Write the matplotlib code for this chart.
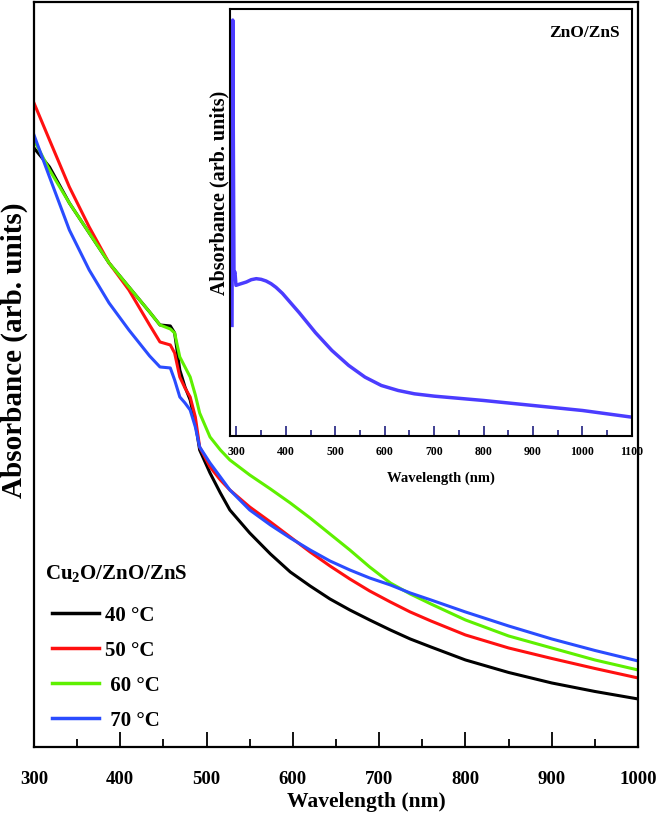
import numpy as np
import matplotlib
matplotlib.use("Agg")
import matplotlib.pyplot as plt
from matplotlib.ticker import MultipleLocator

plt.rcParams['font.family'] = 'Liberation Serif'
plt.rcParams['font.weight'] = 'bold'
plt.rcParams['axes.labelweight'] = 'bold'
plt.rcParams['mathtext.default'] = 'regular'

#######################################
# MAIN PANEL DATA (Cu2O/ZnO/ZnS)
#######################################
wl = [300, 318, 341, 364, 387, 410, 434, 446, 458, 463, 469, 475, 481, 487, 492, 504, 516,
      527, 550, 574, 597, 620, 643, 666, 689, 713, 736, 760, 800, 850, 900, 950, 1000]

abs_40 = [5.99, 5.80, 5.44, 5.14, 4.84, 4.60, 4.35, 4.22, 4.21, 4.14, 3.77, 3.60, 3.47, 3.24,
          2.97, 2.74, 2.54, 2.37, 2.14, 1.93, 1.75, 1.61, 1.48, 1.37, 1.27, 1.17, 1.08, 1.00,
          0.87, 0.745, 0.64, 0.555, 0.48]
abs_50 = [6.44, 6.07, 5.60, 5.20, 4.84, 4.57, 4.22, 4.05, 4.02, 3.94, 3.70, 3.59, 3.50, 3.30,
          3.00, 2.80, 2.67, 2.57, 2.40, 2.25, 2.10, 1.95, 1.81, 1.68, 1.56, 1.45, 1.35, 1.26,
          1.12, 0.99, 0.885, 0.785, 0.69]
abs_60 = [6.07, 5.77, 5.44, 5.14, 4.84, 4.60, 4.35, 4.22, 4.18, 4.14, 3.90, 3.80, 3.70, 3.52,
          3.34, 3.10, 2.97, 2.87, 2.72, 2.58, 2.44, 2.29, 2.13, 1.97, 1.80, 1.64, 1.53, 1.43,
          1.27, 1.11, 0.99, 0.87, 0.77]
abs_70 = [6.12, 5.70, 5.17, 4.77, 4.44, 4.17, 3.91, 3.80, 3.79, 3.67, 3.50, 3.44, 3.37, 3.20,
          3.00, 2.84, 2.70, 2.57, 2.37, 2.22, 2.09, 1.97, 1.86, 1.77, 1.69, 1.62, 1.54, 1.47,
          1.35, 1.21, 1.08, 0.965, 0.86]

labels = ['40 °C', '50 °C', ' 60 °C', ' 70 °C']
colors = ['black', '#ff1010', '#5ef000', '#2a4cff']

#######################################
# INSET DATA (ZnO/ZnS)
#######################################
wl_in = [291, 292.5, 295, 297, 299, 305, 320, 330, 340, 350, 360, 370, 380, 393, 427,
         460, 493, 527, 560, 593, 627, 660, 700, 800, 900, 1000, 1100]
abs_in = [0.332, 1.247, 0.487, 0.492, 0.452, 0.455, 0.462, 0.469, 0.472, 0.470, 0.465,
          0.457, 0.446, 0.428, 0.370, 0.310, 0.257, 0.212, 0.177, 0.152, 0.137, 0.127,
          0.120, 0.107, 0.092, 0.077, 0.057]

fig = plt.figure(figsize=(6.61, 8.23), dpi=100)
ax = fig.add_axes([0.0514, 0.0924, 0.9138, 0.9052])

for y, c, lab in zip([abs_40, abs_50, abs_60, abs_70], colors, labels):
    ax.plot(wl, y, color=c, lw=2.2, label=lab)

ax.set_xlim(300, 1000)
ax.set_ylim(0, 7.45)
ax.xaxis.set_major_locator(MultipleLocator(100))
ax.xaxis.set_minor_locator(MultipleLocator(50))
ax.tick_params(axis='x', which='major', direction='in', length=11, width=1.3,
               labelsize=13.5, pad=17)
ax.tick_params(axis='x', which='minor', direction='in', length=6, width=1.3)
ax.set_yticks([])
for s in ax.spines.values():
    s.set_linewidth(1.6)

ax.set_xlabel("Wavelength (nm)", fontsize=15.5, va='center')
ax.xaxis.set_label_coords(0.55, -0.074)
ax.set_ylabel("Absorbance (arb. units)", fontsize=21, va='center')
ax.yaxis.set_label_coords(-0.033, 0.533)

# legend: title placed as its own text, entries below it
ax.text(0.0182, 0.233, "Cu$_2$O/ZnO/ZnS", transform=ax.transAxes, ha='left', va='center',
        fontsize=15)
leg = ax.legend(loc='lower left', bbox_to_anchor=(0.03, 0.022), frameon=False,
                fontsize=15, handlelength=2.25, handletextpad=0.3, labelspacing=0.72,
                borderpad=0, borderaxespad=0)
for line in leg.get_lines():
    line.set_linewidth(2.5)

# Inset
ins = fig.add_axes([0.348, 0.470, 0.608, 0.519])
ins.plot(wl_in, abs_in, color='#4b3cff', lw=2.5)
ins.set_xlim(287, 1100)
ins.set_ylim(0, 1.28)
ins.xaxis.set_major_locator(MultipleLocator(100))
ins.xaxis.set_minor_locator(MultipleLocator(50))
ins.tick_params(axis='x', which='major', direction='in', length=7, width=1.2,
                color='#202080', labelsize=8.5, pad=7)
ins.tick_params(axis='x', which='minor', direction='in', length=4, width=1.2,
                color='#202080')
ins.set_yticks([])
for s in ins.spines.values():
    s.set_linewidth(1.5)
ins.set_xlabel("Wavelength (nm)", fontsize=10.5, va='center')
ins.xaxis.set_label_coords(0.525, -0.098)
ins.set_ylabel("Absorbance (arb. units)", fontsize=14.5, va='center')
ins.yaxis.set_label_coords(-0.025, 0.57)
ins.text(0.97, 0.945, "ZnO/ZnS", transform=ins.transAxes, ha='right', va='center',
         fontsize=12.5)

fig.savefig("out.png", dpi=100)
